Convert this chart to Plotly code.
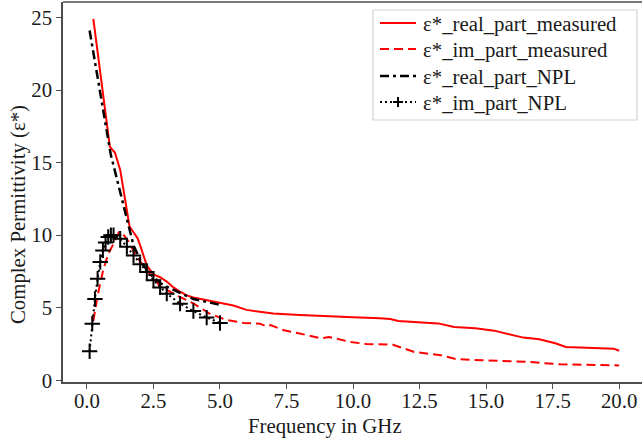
import plotly.graph_objects as go

meas_freq = [0.24, 0.5, 0.7, 0.86, 0.95, 1.05, 1.25, 1.45, 1.6, 1.75, 1.9, 2.0, 2.25, 2.5, 2.75,
             3.0, 3.25, 3.5, 3.75, 4.0, 4.5, 5.0, 5.5, 6.0, 6.5, 7.0, 8.0, 9.0, 10.0, 11.0,
             11.4, 11.7, 12.5, 13.2, 13.8, 14.6, 15.3, 15.7, 16.0, 16.4, 17.0, 17.6, 18.0,
             19.2, 19.8, 20.0]
meas_real = [24.9, 21.2, 18.4, 16.1, 15.9, 15.7, 14.5, 12.4, 10.6, 10.2, 9.8, 9.3, 7.9, 7.3, 7.1,
             6.8, 6.4, 6.1, 5.85, 5.7, 5.5, 5.3, 5.15, 4.85, 4.7, 4.6, 4.5, 4.4, 4.35, 4.28,
             4.22, 4.08, 4.0, 3.92, 3.67, 3.58, 3.42, 3.24, 3.15, 2.94, 2.82, 2.55, 2.3,
             2.22, 2.18, 2.03]

meas_im_freq = [0.24, 0.42, 0.61, 0.8, 1.05, 1.2, 1.35, 1.55, 1.87, 2.24, 2.74, 3.37, 4.0, 4.6,
                5.25, 5.9, 6.5, 6.75, 6.9, 7.4, 8.3, 8.8, 9.1, 9.9, 10.5, 11.5, 12.3, 13.3,
                13.9, 15.0, 16.6, 17.8, 20.0]
meas_im = [4.1, 6.0, 7.6, 8.7, 9.6, 10.2, 10.1, 9.6, 8.5, 7.6, 6.5, 5.85, 5.3, 4.6,
           4.15, 3.95, 3.9, 3.7, 3.8, 3.45, 3.1, 2.88, 2.98, 2.64, 2.5, 2.45, 1.95, 1.72,
           1.45, 1.38, 1.26, 1.1, 1.02]

# NPL reference data
npl_freq = [0.1, 0.2, 0.3, 0.4, 0.5, 0.6, 0.7, 0.8, 0.9, 1.0, 1.25, 1.5, 1.75, 2.0, 2.25,
            2.5, 2.75, 3.0, 3.5, 4.0, 4.5, 5.0]
npl_real = [24.1, 23.0, 21.9, 20.8, 19.7, 18.6, 17.5, 16.4, 15.5, 14.8, 13.0, 11.2, 9.3, 8.3,
            7.6, 7.1, 6.7, 6.45, 6.0, 5.6, 5.4, 5.2]
npl_im = [2.0, 3.9, 5.6, 7.0, 8.15, 8.95, 9.5, 9.87, 10.0, 10.0, 9.75, 9.2, 8.6, 8.0,
          7.46, 6.9, 6.4, 5.97, 5.28, 4.77, 4.32, 3.95]

series_names = ["ε*_real_part_measured", "ε*_im_part_measured",
                "ε*_real_part_NPL", "ε*_im_part_NPL"]

x_title = "Frequency in GHz"
y_title = "Complex Permittivity (ε*)"
x_ticks = [0.0, 2.5, 5.0, 7.5, 10.0, 12.5, 15.0, 17.5, 20.0]
x_tick_text = ["0.0", "2.5", "5.0", "7.5", "10.0", "12.5", "15.0", "17.5", "20.0"]
y_ticks = [0, 5, 10, 15, 20, 25]

FONT = "Liberation Serif"
FS = 20.8
AX = "#4d4d4d"
TXT = "#1a1a1a"
W, H = 642, 438
ML, MT, MB, MR = 63, 2, 56, 0
PW, PH = W - ML - MR, H - MT - MB


def px(xp):
    return (xp - ML) / PW


def py(yp):
    return 1 - (yp - MT) / PH


styles = [
    dict(color="#ff0000", width=2, dash="solid"),
    dict(color="#ff0000", width=2, dash="9px,5px"),
    dict(color="black", width=2.5, dash="9px,4px,3px,4px"),
    dict(color="black", width=2, dash="2px,3px"),
]

fig = go.Figure()
fig.add_trace(go.Scatter(x=meas_freq, y=meas_real, mode="lines", name=series_names[0],
                         line=styles[0], showlegend=False))
fig.add_trace(go.Scatter(x=meas_im_freq, y=meas_im, mode="lines", name=series_names[1],
                         line=styles[1], showlegend=False))
fig.add_trace(go.Scatter(x=npl_freq, y=npl_real, mode="lines", name=series_names[2],
                         line=styles[2], showlegend=False))
fig.add_trace(go.Scatter(x=npl_freq, y=npl_im, mode="lines+markers", name=series_names[3],
                         line=styles[3], showlegend=False,
                         marker=dict(symbol="cross-thin", size=11,
                                     line=dict(width=2, color="black"), color="black")))

# Legend drawn as shapes + text
shapes = [dict(type="line", xref="paper", yref="paper", x0=0, x1=1, y0=1, y1=1,
               line=dict(color=AX, width=1.5)),
          dict(type="rect", xref="paper", yref="paper", x0=px(373), x1=px(637),
               y0=py(120), y1=py(10), line=dict(color="#d3d3d3", width=1.2),
               fillcolor="rgba(255,255,255,0.85)")]
annotations = []
rows = [23, 49, 76, 102]
for i, (name, st, ry) in enumerate(zip(series_names, styles, rows)):
    shapes.append(dict(type="line", xref="paper", yref="paper", x0=px(380), x1=px(416),
                       y0=py(ry), y1=py(ry), line=st))
    annotations.append(dict(text=name, xref="paper", yref="paper", x=px(421), y=py(ry + 1),
                            xanchor="left", yanchor="middle", showarrow=False,
                            font=dict(family=FONT, size=FS, color=TXT)))
# cross marker in last legend row
cx, cy, hs = 398, rows[3], 5
shapes.append(dict(type="path", xref="paper", yref="paper",
                   path=f"M {px(cx - hs)},{py(cy)} L {px(cx + hs)},{py(cy)} "
                        f"M {px(cx)},{py(cy - hs)} L {px(cx)},{py(cy + hs)}",
                   line=dict(color="black", width=2)))

# Axis titles (positioned as in reference)
annotations.append(dict(text=x_title, xref="paper", yref="paper", x=px(325), y=py(426),
                        xanchor="center", yanchor="middle", showarrow=False,
                        font=dict(family=FONT, size=FS, color=TXT)))
annotations.append(dict(text=y_title, xref="paper", yref="paper", x=px(18), y=py(215),
                        xanchor="center", yanchor="middle", showarrow=False, textangle=-90,
                        font=dict(family=FONT, size=FS, color=TXT)))

fig.update_layout(
    width=W, height=H,
    margin=dict(l=ML, r=MR, t=MT, b=MB),
    paper_bgcolor="white", plot_bgcolor="white",
    font=dict(family=FONT, size=FS, color=TXT),
    showlegend=False,
    xaxis=dict(range=[-0.9, 20.86], tickvals=x_ticks, ticktext=x_tick_text,
               showgrid=False, zeroline=False, showline=True, linecolor=AX, linewidth=1.5,
               ticks="outside", ticklen=5, tickwidth=1.2, tickcolor=AX,
               ticklabelstandoff=-6,
               tickfont=dict(family=FONT, size=FS, color=TXT)),
    yaxis=dict(range=[-0.12, 26.07], tickvals=y_ticks,
               showgrid=False, zeroline=False, showline=True, linecolor=AX, linewidth=1.5,
               ticks="outside", ticklen=5, tickwidth=1.2, tickcolor=AX,
               tickfont=dict(family=FONT, size=FS, color=TXT)),
    shapes=shapes,
    annotations=annotations,
)

fig.write_html("out.html")
